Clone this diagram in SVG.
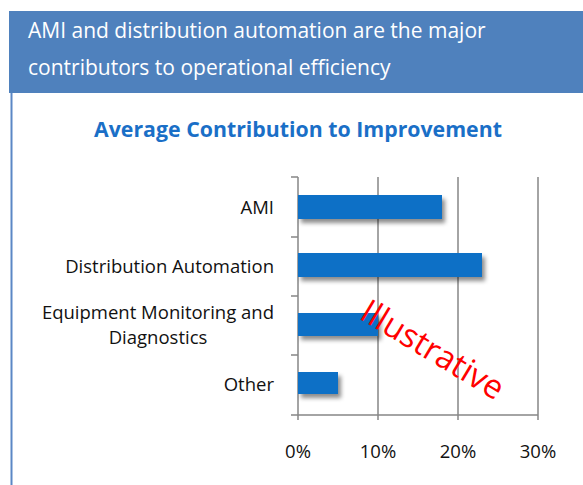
<svg xmlns="http://www.w3.org/2000/svg" width="583" height="485" viewBox="0 0 583 485">
<defs>
<style>
.lbl{font-family:"Open Sans","Liberation Sans",sans-serif;font-size:18.5px;fill:#111;}
.grid{stroke:#878787;stroke-width:1.5;fill:none;}
.bar{fill:#0F6FC6;}
</style>
<filter id="sh" x="-10%" y="-30%" width="130%" height="180%">
<feDropShadow dx="3" dy="4" stdDeviation="2" flood-color="#000" flood-opacity="0.45"/>
</filter>
</defs>
<rect x="0" y="0" width="583" height="485" fill="#fff"/>
<g id="header">
<rect x="9" y="11" width="574" height="82" fill="#4F81BD"/>
<text x="28" y="38" font-family="'Open Sans','Liberation Sans',sans-serif" font-size="21" fill="#fff">AMI and distribution automation are the major</text>
<text x="28" y="75" font-family="'Open Sans','Liberation Sans',sans-serif" font-size="21" fill="#fff">contributors to operational efficiency</text>
</g>
<g id="frame">
<line x1="11.5" y1="93" x2="11.5" y2="485" stroke="#5B87C5" stroke-width="2"/>
</g>
<g id="chart-title">
<text x="298" y="137" text-anchor="middle" font-family="'Open Sans','Liberation Sans',sans-serif" font-weight="bold" font-size="21.3" fill="#1A6FC7">Average Contribution to Improvement</text>
</g>
<g id="axes">
<path class="grid" d="M378 177V420M458 177V420M538 177V420"/>
<path class="grid" d="M298 177V420M291 177H298M291 237H298M291 296H298M291 355H298M291 415H538"/>
</g>
<g id="bars" filter="url(#sh)">
<rect id="bar-ami" class="bar" x="298" y="195" width="144" height="24"/>
<rect id="bar-da" class="bar" x="298" y="253" width="184" height="24"/>
<rect id="bar-emd" class="bar" x="298" y="313" width="80" height="23"/>
<rect id="bar-other" class="bar" x="298" y="372" width="40" height="22"/>
</g>
<g id="category-labels">
<text class="lbl" x="274" y="214" text-anchor="end">AMI</text>
<text class="lbl" x="274" y="273" text-anchor="end">Distribution Automation</text>
<text class="lbl" x="274" y="319" text-anchor="end">Equipment Monitoring and</text>
<text class="lbl" x="158" y="344" text-anchor="middle">Diagnostics</text>
<text class="lbl" x="274" y="391" text-anchor="end">Other</text>
</g>
<g id="value-labels">
<text class="lbl" x="298" y="458" text-anchor="middle">0%</text>
<text class="lbl" x="378" y="458" text-anchor="middle">10%</text>
<text class="lbl" x="458" y="458" text-anchor="middle">20%</text>
<text class="lbl" x="538" y="458" text-anchor="middle">30%</text>
</g>
<g id="stamp">
<text x="0" y="0" transform="translate(358 318) rotate(31)" font-family="'Open Sans','Liberation Sans',sans-serif" font-size="33" fill="#FF0000">Illustrative</text>
</g>
</svg>
